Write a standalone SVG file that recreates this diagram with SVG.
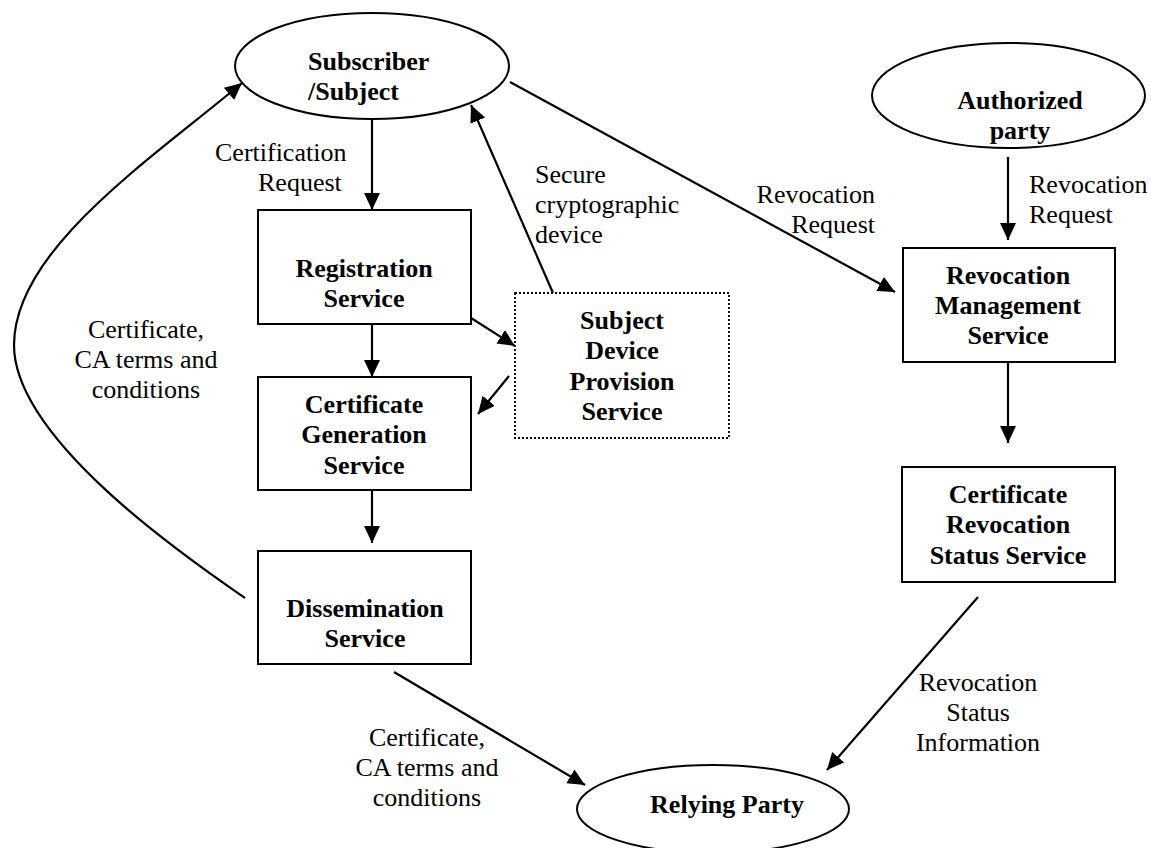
<svg xmlns="http://www.w3.org/2000/svg" width="1151" height="848" viewBox="0 0 1151 848">
<style>
  .node { fill: #fff; stroke: #000; stroke-width: 2; }
  .dotted { fill: #fff; stroke: #000; stroke-width: 1.8; stroke-dasharray: 2 2; }
  .conn { fill: none; stroke: #000; stroke-width: 2.2; marker-end: url(#arrow); }
  .bold { font-family: "Liberation Serif", "Times New Roman", serif; font-weight: bold; font-size: 26px; fill: #000; }
  .lbl { font-family: "Liberation Serif", "Times New Roman", serif; font-size: 26px; fill: #000; }
  .mid { text-anchor: middle; }
  .end { text-anchor: end; }
</style>
<defs>
  <marker id="arrow" markerUnits="userSpaceOnUse" markerWidth="18" markerHeight="17" refX="17" refY="8" orient="auto">
    <path d="M0,0 L17,8 L0,16 z" fill="#000"/>
  </marker>
</defs>
<rect width="1151" height="848" fill="#fff"/>

<g id="connectors">
  <path class="conn" d="M372,119 L372,210"/>
  <path class="conn" d="M372,324 L372,377"/>
  <path class="conn" d="M372,490 L372,543"/>
  <path class="conn" d="M471,318 L515,346"/>
  <path class="conn" d="M509,376 L478,414"/>
  <path class="conn" d="M553,293 L471,105"/>
  <path class="conn" d="M510,82 L895,292"/>
  <path class="conn" d="M1008,157 L1008,240"/>
  <path class="conn" d="M1008,362 L1008,443"/>
  <path class="conn" d="M978,597 L827,770"/>
  <path class="conn" d="M394,672 L585,785"/>
  <path class="conn" d="M245,598 C190,560 14,440 14,345 C14,250 150,160 242,83"/>
  <g id="connector-labels">
    <text class="lbl" x="215" y="161">Certification</text>
    <text class="lbl" x="258" y="191">Request</text>
    <text class="lbl" x="535" y="183">Secure</text>
    <text class="lbl" x="535" y="213">cryptographic</text>
    <text class="lbl" x="535" y="243">device</text>
    <text class="lbl end" x="875" y="203">Revocation</text>
    <text class="lbl end" x="875" y="233">Request</text>
    <text class="lbl" x="1029" y="193">Revocation</text>
    <text class="lbl" x="1029" y="223">Request</text>
    <text class="lbl mid" x="146" y="338">Certificate,</text>
    <text class="lbl mid" x="146" y="368">CA terms and</text>
    <text class="lbl mid" x="146" y="398">conditions</text>
    <text class="lbl mid" x="427" y="746">Certificate,</text>
    <text class="lbl mid" x="427" y="776">CA terms and</text>
    <text class="lbl mid" x="427" y="806">conditions</text>
    <text class="lbl mid" x="978" y="691">Revocation</text>
    <text class="lbl mid" x="978" y="721">Status</text>
    <text class="lbl mid" x="978" y="751">Information</text>
  </g>
</g>

<g id="subscriber">
  <ellipse class="node" cx="372" cy="66" rx="137" ry="53"/>
  <text class="bold" x="308" y="70">Subscriber</text>
  <text class="bold" x="308" y="100">/Subject</text>
</g>

<g id="authorized-party">
  <ellipse class="node" cx="1008.5" cy="95.5" rx="136.5" ry="52.5"/>
  <text class="bold mid" x="1020" y="109">Authorized</text>
  <text class="bold mid" x="1020" y="139">party</text>
</g>

<g id="registration-service">
  <rect class="node" x="258" y="210" width="213" height="114"/>
  <text class="bold mid" x="364" y="277">Registration</text>
  <text class="bold mid" x="364" y="307">Service</text>
</g>

<g id="certificate-generation-service">
  <rect class="node" x="258" y="377" width="213" height="113"/>
  <text class="bold mid" x="364" y="413">Certificate</text>
  <text class="bold mid" x="364" y="443">Generation</text>
  <text class="bold mid" x="364" y="474">Service</text>
</g>

<g id="dissemination-service">
  <rect class="node" x="258" y="551" width="213" height="113"/>
  <text class="bold mid" x="365" y="617">Dissemination</text>
  <text class="bold mid" x="365" y="647">Service</text>
</g>

<g id="subject-device-provision-service">
  <rect class="dotted" x="515" y="293" width="214" height="145"/>
  <text class="bold mid" x="622" y="329">Subject</text>
  <text class="bold mid" x="622" y="359">Device</text>
  <text class="bold mid" x="622" y="390">Provision</text>
  <text class="bold mid" x="622" y="420">Service</text>
</g>

<g id="revocation-management-service">
  <rect class="node" x="903" y="248" width="212" height="114"/>
  <text class="bold mid" x="1008" y="284">Revocation</text>
  <text class="bold mid" x="1008" y="314">Management</text>
  <text class="bold mid" x="1008" y="344">Service</text>
</g>

<g id="certificate-revocation-status-service">
  <rect class="node" x="902" y="467" width="213" height="115"/>
  <text class="bold mid" x="1008" y="503">Certificate</text>
  <text class="bold mid" x="1008" y="533">Revocation</text>
  <text class="bold mid" x="1008" y="564">Status Service</text>
</g>

<g id="relying-party">
  <ellipse class="node" cx="713" cy="809" rx="136" ry="44"/>
  <text class="bold mid" x="727" y="813">Relying Party</text>
</g>
</svg>
